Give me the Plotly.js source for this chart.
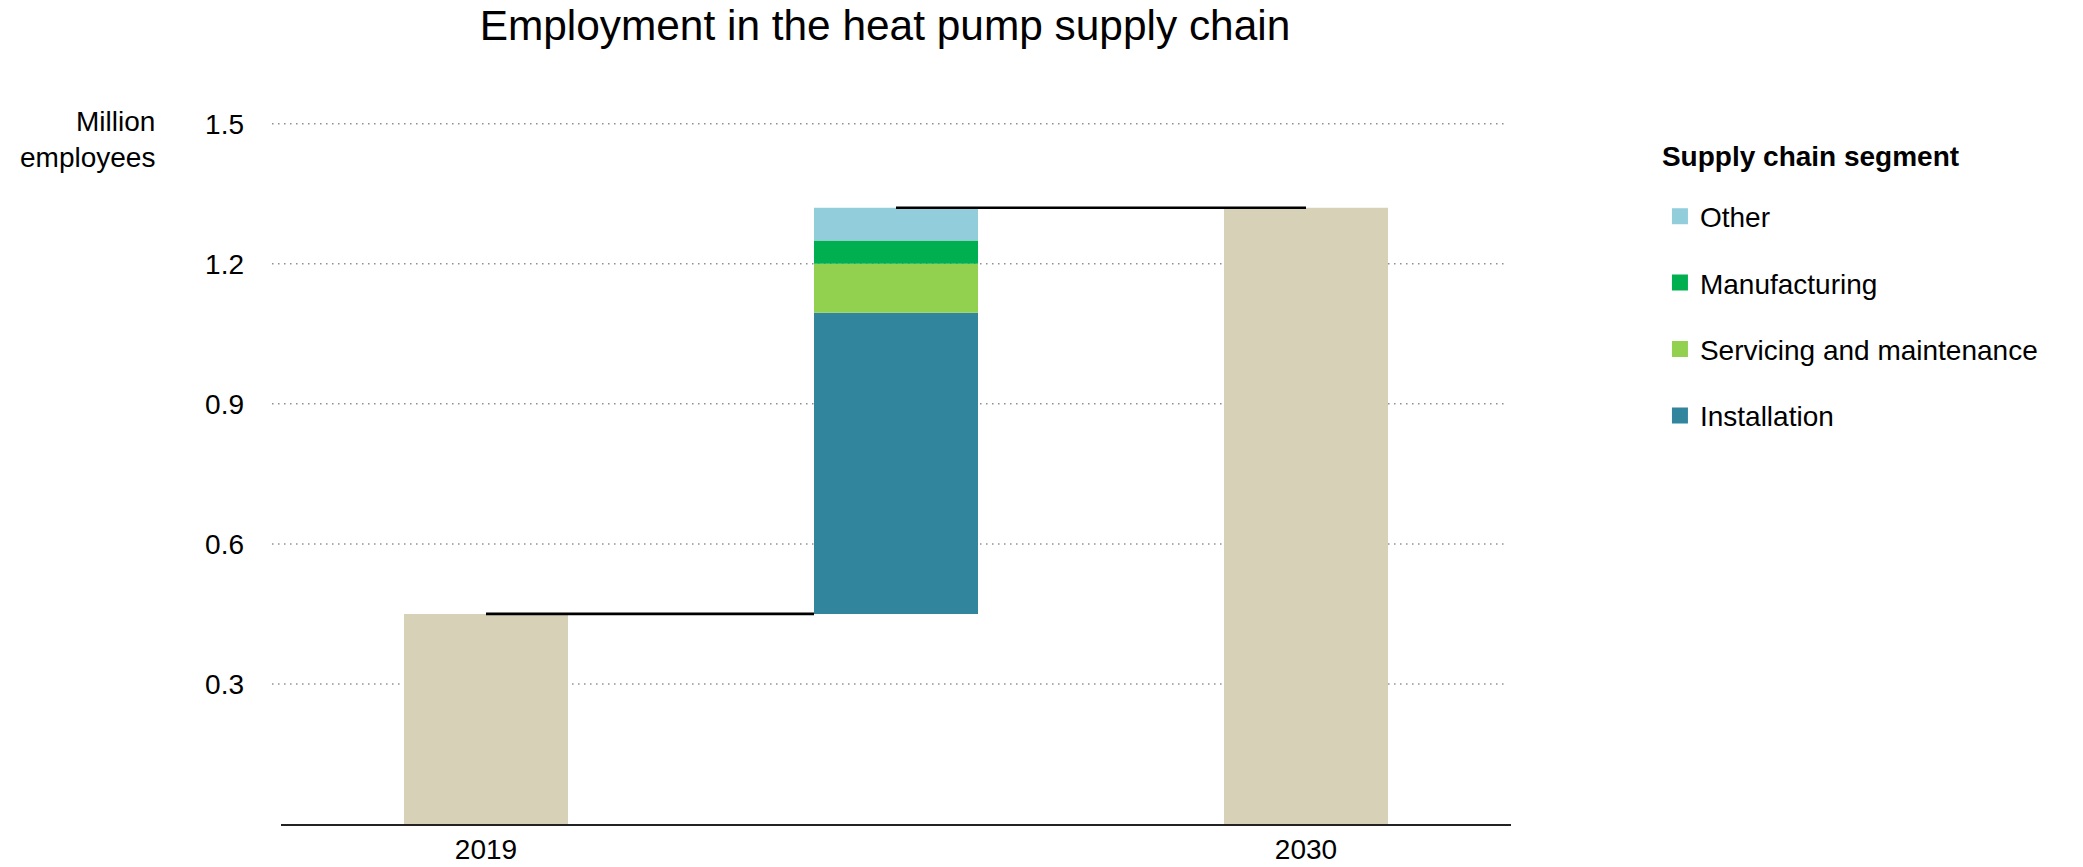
<!DOCTYPE html>
<html>
<head>
<meta charset="utf-8">
<script src="https://cdn.plot.ly/plotly-3.0.1.min.js"></script>
<style>html,body{margin:0;padding:0;background:#fff;}#chart{width:2083px;height:867px;}</style>
</head>
<body>
<div id="chart"></div>
<script>
// ---- data ----
const categories = ['2019', '', '2030'];
const startValue = 0.45;          // 2019 total, million employees
const endValue = 1.32;            // 2030 total, million employees
const segmentNames = ['Installation', 'Servicing and maintenance', 'Manufacturing', 'Other'];
const segmentValues = [0.645, 0.105, 0.05, 0.07];
const segmentColors = ['#31859c', '#92d050', '#00b050', '#92cddc'];
const yTickValues = [0.3, 0.6, 0.9, 1.2, 1.5];
const chartTitle = 'Employment in the heat pump supply chain';
const yAxisTitle = 'Million<br>employees';
const legendTitle = 'Supply chain segment';

// ---- styling ----
const FONT = 'Liberation Sans, Arial, sans-serif';
const FS = 28;
const barWidth = 0.4;
const totalColor = '#d7d1b8';

const xPos = categories.map((c, i) => i);
const traces = [];

// total bars (2019, 2030)
traces.push({
  type: 'bar', x: [xPos[0], xPos[2]], y: [startValue, endValue],
  width: barWidth, marker: {color: totalColor, line: {width: 0}},
  showlegend: false, hoverinfo: 'x+y'
});

// stacked change segments (middle bar)
let cum = startValue;
segmentNames.forEach((name, i) => {
  traces.push({
    type: 'bar', x: [xPos[1]], y: [segmentValues[i]], base: [cum],
    width: barWidth, marker: {color: segmentColors[i], line: {width: 0}},
    name: name, legendgroup: name, showlegend: false, hoverinfo: 'name+y'
  });
  cum += segmentValues[i];
});

// connector lines
traces.push({
  type: 'scatter', mode: 'lines', x: [xPos[0], xPos[1] - barWidth / 2], y: [startValue, startValue],
  line: {color: '#000', width: 2.6}, showlegend: false, hoverinfo: 'skip'
});
traces.push({
  type: 'scatter', mode: 'lines', x: [xPos[1], xPos[2]], y: [endValue, endValue],
  line: {color: '#000', width: 2.6}, showlegend: false, hoverinfo: 'skip'
});

// legend entries (top of stack first)
segmentNames.slice().reverse().forEach((name) => {
  const i = segmentNames.indexOf(name);
  traces.push({
    type: 'scatter', mode: 'markers', x: [null], y: [null],
    marker: {symbol: 'square', size: 16, color: segmentColors[i]},
    name: name, legendgroup: name, showlegend: true, hoverinfo: 'skip'
  });
});

// dotted gridlines
const shapes = yTickValues.map(v => ({
  type: 'line', xref: 'paper', yref: 'y', x0: -0.0073, x1: 0.9951, y0: v, y1: v,
  line: {color: '#8f8f8f', width: 1.5, dash: '1.5px,4.5px'}, layer: 'below'
}));

const layout = {
  width: 2083, height: 867,
  paper_bgcolor: '#fff', plot_bgcolor: 'rgba(0,0,0,0)',
  margin: {l: 281, r: 572, t: 77, b: 43},
  font: {family: FONT, size: FS, color: '#000'},
  barmode: 'overlay',
  title: {
    text: chartTitle, font: {family: FONT, size: 42.4, color: '#000'},
    xref: 'paper', x: 0.491, xanchor: 'center',
    yref: 'container', y: 0.971, yanchor: 'middle'
  },
  xaxis: {
    range: [-0.5, 2.5], tickmode: 'array',
    tickvals: xPos.filter(i => categories[i] !== ''),
    ticktext: categories.filter(c => c !== ''),
    showgrid: false, zeroline: false, showline: true,
    linecolor: '#222', linewidth: 1.5, ticks: '', ticklabelstandoff: 0,
    tickfont: {family: FONT, size: FS, color: '#000'}, fixedrange: true
  },
  yaxis: {
    range: [0, 1.6], tickmode: 'array', tickvals: yTickValues,
    ticktext: yTickValues.map(v => v.toFixed(1)),
    showgrid: false, zeroline: false, showline: false, ticks: '',
    ticklabelstandoff: 36,
    tickfont: {family: FONT, size: FS, color: '#000'}, fixedrange: true
  },
  shapes: shapes,
  annotations: [{
    text: yAxisTitle, xref: 'paper', yref: 'y', x: -0.1008, y: 1.5,
    xanchor: 'right', yanchor: 'top', yshift: 20, align: 'right', showarrow: false,
    font: {family: FONT, size: FS, color: '#000'}
  }],
  legend: {
    xref: 'container', yref: 'container', x: 0.7969, y: 0.8391,
    xanchor: 'left', yanchor: 'top',
    title: {
      text: '<span style="font-size:28px"><b>' + legendTitle + '</b></span><br> ',
      font: {family: FONT, size: 20, color: '#000'}
    },
    font: {family: FONT, size: FS, color: '#000'},
    traceorder: 'grouped', tracegroupgap: 27, itemwidth: 30,
    bgcolor: 'rgba(0,0,0,0)', borderwidth: 0
  },
  showlegend: true
};

Plotly.newPlot('chart', traces, layout, {displayModeBar: false, staticPlot: true});
</script>
</body>
</html>
